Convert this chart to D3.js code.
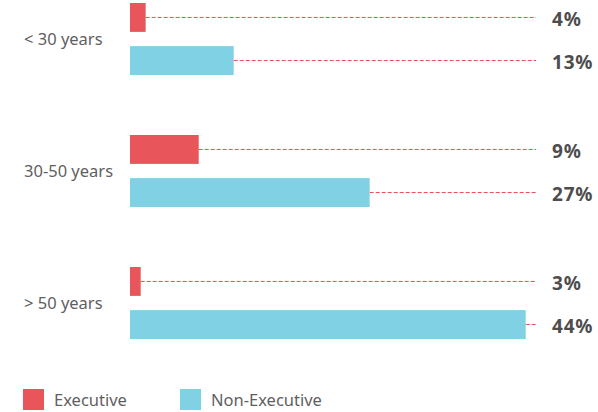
<!DOCTYPE html>
<html>
<head>
<meta charset="utf-8">
<script src="https://cdn.jsdelivr.net/npm/d3@7"></script>
<style>
  body { margin: 0; background: #fff; }
</style>
</head>
<body>
<svg id="chart"></svg>
<script>
// age groups and the two series
const ageGroups = ["< 30 years", "30-50 years", "> 50 years"];
const seriesNames = ["Executive", "Non-Executive"];
// bar lengths
const executive = [1.74, 7.64, 1.19];
const nonExecutive = [11.53, 26.65, 44];
// printed labels
const executiveLabels = ["4%", "9%", "3%"];
const nonExecutiveLabels = ["13%", "27%", "44%"];

const colors = {"Executive": "#e8555a", "Non-Executive": "#7fd1e3"};

const width = 598, height = 412;

const svg = d3.select("#chart")
    .attr("width", width)
    .attr("height", height)
    .style("font-family", "'Noto Sans', sans-serif");

const x = d3.scaleLinear()
    .domain([0, 44])
    .range([130, 525.7]);

const y = d3.scaleBand()
    .domain(ageGroups)
    .range([3, 339])
    .paddingInner(60 / 132)
    .paddingOuter(0);

const ySub = d3.scaleBand()
    .domain(seriesNames)
    .range([0, y.bandwidth()])
    .paddingInner(0.33);

let rows = [];
ageGroups.forEach(function(g, i) {
    rows.push({group: g, series: "Executive", value: executive[i], label: executiveLabels[i]});
    rows.push({group: g, series: "Non-Executive", value: nonExecutive[i], label: nonExecutiveLabels[i]});
});

const lineEnd = 536;

const bar = svg.selectAll("g.bar")
    .data(rows)
    .join("g")
      .attr("class", "bar")
      .attr("transform", d => `translate(0, ${y(d.group) + ySub(d.series)})`);

bar.append("line")
    .attr("x1", d => x(d.value))
    .attr("x2", lineEnd)
    .attr("y1", ySub.bandwidth() / 2)
    .attr("y2", ySub.bandwidth() / 2)
    .attr("stroke", "#ec4a52")
    .attr("stroke-width", 1)
    .attr("stroke-dasharray", "4,2");

bar.append("rect")
    .attr("x", x(0))
    .attr("width", d => x(d.value) - x(0))
    .attr("height", ySub.bandwidth())
    .attr("fill", d => colors[d.series]);

bar.append("text")
    .attr("x", 552)
    .attr("y", ySub.bandwidth() / 2 + 2)
    .attr("dy", "0.35em")
    .attr("font-size", 19)
    .attr("font-weight", "bold")
    .attr("letter-spacing", 0.8)
    .attr("fill", "#4d4d4d")
    .text(d => d.label);

// category labels on the left
svg.append("g").selectAll("text")
    .data(ageGroups)
    .join("text")
      .attr("x", 24)
      .attr("y", d => y(d) + y.bandwidth() / 2)
      .attr("dy", "0.35em")
      .attr("font-size", 16.5)
      .attr("fill", "#5f5f5f")
      .text(d => d);

// legend
const legend = svg.append("g").selectAll("g")
    .data(seriesNames)
    .join("g")
      .attr("transform", (d, i) => `translate(${[23, 180][i]}, 389)`);

legend.append("rect")
    .attr("width", 21)
    .attr("height", 21)
    .attr("fill", d => colors[d]);

legend.append("text")
    .attr("x", 31)
    .attr("y", 11)
    .attr("dy", "0.35em")
    .attr("font-size", 16.5)
    .attr("fill", "#5f5f5f")
    .text(d => d);
</script>
</body>
</html>
